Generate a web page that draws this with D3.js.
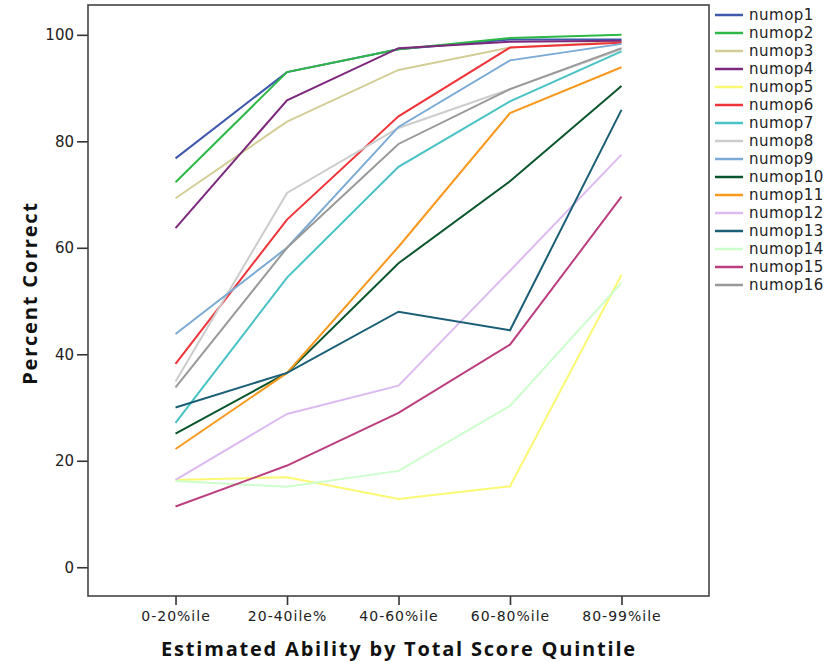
<!DOCTYPE html>
<html>
<head>
<meta charset="utf-8">
<script src="https://cdn.jsdelivr.net/npm/d3@7"></script>
<style>
    body { margin: 0; background: #fff; }
    svg { display: block; }
    text { font-family: "DejaVu Sans", sans-serif; fill: #222; }
    .title { font-family: "Open Sans", sans-serif; font-weight: bold; font-size: 20px; letter-spacing: 1.8px; fill: #111; }
</style>
</head>
<body>
<svg id="chart" width="828" height="661"></svg>
<script>
    // categories along the x axis
    var quintiles = ["0-20%ile", "20-40ile%", "40-60%ile", "60-80%ile", "80-99%ile"];

    // y axis ticks
    var yTicks = [0, 20, 40, 60, 80, 100];

    // series names + colours (SPSS default palette)
    var seriesNames = ["numop1", "numop2", "numop3", "numop4", "numop5", "numop6", "numop7", "numop8",
        "numop9", "numop10", "numop11", "numop12", "numop13", "numop14", "numop15", "numop16"];
    var seriesColors = ["#3e58ac", "#2eb848", "#d3ce97", "#7c287d", "#fbf873", "#ef3338", "#48c2c5", "#cccccc",
        "#7aaad5", "#0a562c", "#f8981d", "#ddbaf1", "#1a5f76", "#ccffcc", "#bb3f7f", "#999999"];

    // percent correct per quintile
    var numop1 = [76.8, 93.0, 97.3, 99.1, 99.1];
    var numop2 = [72.3, 93.0, 97.3, 99.4, 100.0];
    var numop3 = [69.3, 83.7, 93.4, 97.6, 98.7];
    var numop4 = [63.7, 87.7, 97.5, 98.7, 98.9];
    var numop5 = [16.4, 16.9, 12.8, 15.2, 54.9];
    var numop6 = [38.2, 65.3, 84.7, 97.6, 98.5];
    var numop7 = [27.1, 54.4, 75.2, 87.5, 96.9];
    var numop8 = [34.9, 70.3, 82.5, 89.8, 97.3];
    var numop9 = [43.8, 60.0, 82.7, 95.2, 98.3];
    var numop10 = [25.1, 36.5, 57.1, 72.5, 90.4];
    var numop11 = [22.2, 36.5, 60.2, 85.3, 93.9];
    var numop12 = [16.4, 28.8, 34.1, 55.7, 77.5];
    var numop13 = [30.0, 36.5, 48.0, 44.5, 85.9];
    var numop14 = [16.2, 15.1, 18.1, 30.3, 53.4];
    var numop15 = [11.4, 19.1, 29.0, 41.8, 69.6];
    var numop16 = [33.8, 60.0, 79.5, 89.8, 97.5];

    var seriesValues = [numop1, numop2, numop3, numop4, numop5, numop6, numop7, numop8,
        numop9, numop10, numop11, numop12, numop13, numop14, numop15, numop16];

    drawChart();

    function drawChart() {
        var series = seriesNames.map(function (name, i) {
            return { name: name, color: seriesColors[i], values: seriesValues[i] };
        });

        //plot frame
        var left = 88, right = 709, top = 5, bottom = 596;

        var svg = d3.select("#chart");

        var x = d3.scalePoint()
            .domain(quintiles)
            .range([left, right])
            .padding(0.785);

        var y = d3.scaleLinear()
            .domain([-5.4, 105.6])
            .range([bottom, top]);

        // y axis
        var yAxis = svg.append("g")
            .attr("transform", "translate(" + left + ",0)")
            .call(d3.axisLeft(y).tickValues(yTicks).tickSize(11).tickPadding(3));
        yAxis.select(".domain").remove();
        yAxis.selectAll(".tick line").attr("stroke", "#333").attr("stroke-width", 1.6);
        yAxis.selectAll(".tick text").attr("font-size", 15).attr("fill", "#222")
            .attr("font-family", "DejaVu Sans, sans-serif");

        // x axis
        var xAxis = svg.append("g")
            .attr("transform", "translate(0," + bottom + ")")
            .call(d3.axisBottom(x).tickSize(9).tickPadding(6));
        xAxis.select(".domain").remove();
        xAxis.selectAll(".tick line").attr("stroke", "#333").attr("stroke-width", 1.6);
        xAxis.selectAll(".tick text").attr("font-size", 14).attr("fill", "#222")
            .attr("letter-spacing", "1px")
            .attr("font-family", "DejaVu Sans, sans-serif");

        // lines
        var line = d3.line()
            .x(function (d, i) { return x(quintiles[i]); })
            .y(function (d) { return y(d); });

        svg.append("g")
            .selectAll("path")
            .data(series)
            .enter()
            .append("path")
            .attr("d", function (d) { return line(d.values); })
            .attr("fill", "none")
            .attr("stroke", function (d) { return d.color; })
            .attr("stroke-width", 2)
            .attr("stroke-linejoin", "miter");

        // frame
        svg.append("rect")
            .attr("x", left)
            .attr("y", top)
            .attr("width", right - left)
            .attr("height", bottom - top)
            .attr("fill", "none")
            .attr("stroke", "#444")
            .attr("stroke-width", 1.6);

        // legend
        var legend = svg.append("g")
            .selectAll("g")
            .data(series)
            .enter()
            .append("g")
            .attr("transform", function (d, i) { return "translate(715," + (15 + i * 18) + ")"; });

        legend.append("line")
            .attr("x1", 0)
            .attr("x2", 28)
            .attr("stroke", function (d) { return d.color; })
            .attr("stroke-width", 2.5);

        legend.append("text")
            .attr("x", 34)
            .attr("dy", "0.35em")
            .attr("font-size", 15)
            .attr("letter-spacing", "0.5px")
            .text(function (d) { return d.name; });

        // axis titles
        svg.append("text")
            .attr("class", "title")
            .attr("x", 399)
            .attr("y", 656)
            .attr("text-anchor", "middle")
            .text("Estimated Ability by Total Score Quintile");

        svg.append("text")
            .attr("class", "title")
            .attr("transform", "translate(37,293) rotate(-90)")
            .attr("text-anchor", "middle")
            .text("Percent Correct");
    }
</script>
</body>
</html>
